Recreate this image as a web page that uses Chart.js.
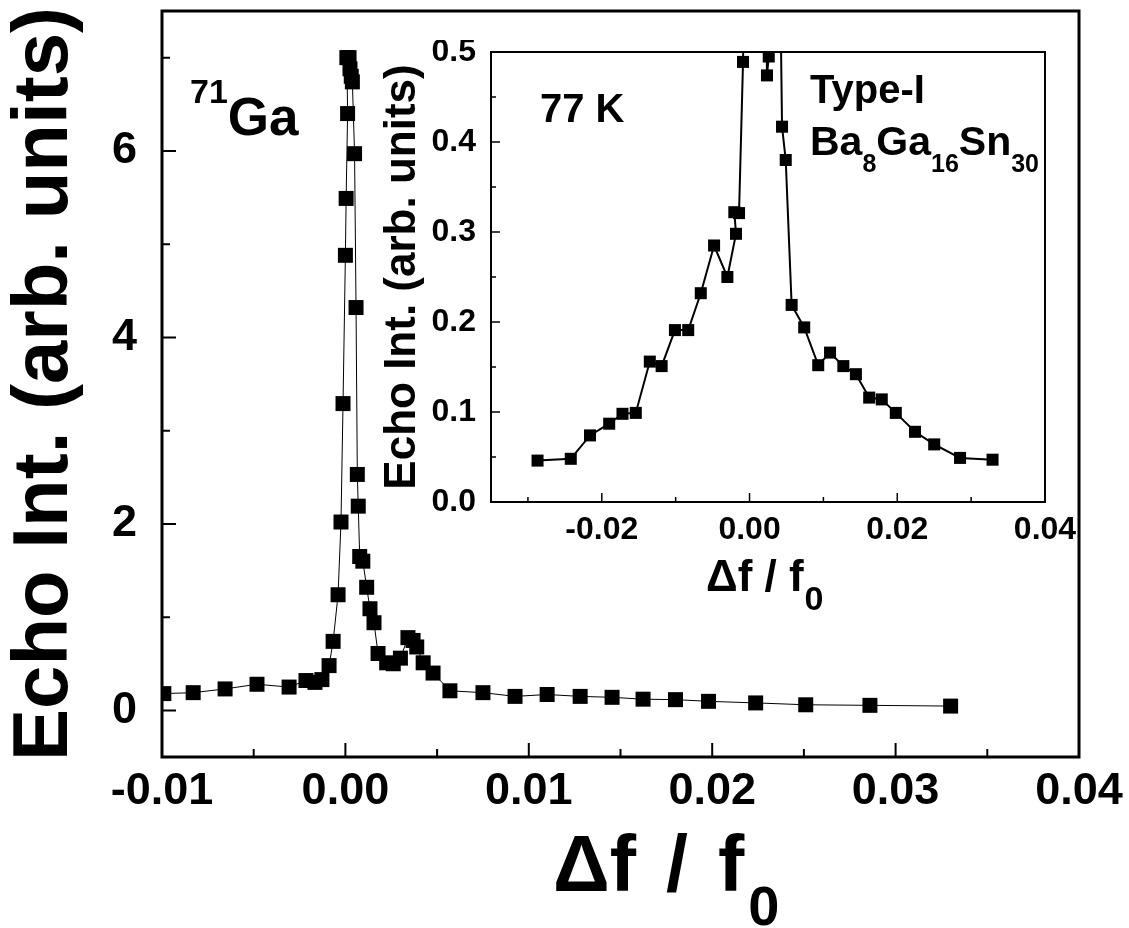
<!DOCTYPE html>
<html><head><meta charset="utf-8">
<script src="https://cdn.jsdelivr.net/npm/chart.js@4.4.1/dist/chart.umd.min.js"></script>
<style>
html,body{margin:0;padding:0;background:#fff;}
#wrap{position:relative;width:1129px;height:928px;overflow:hidden;background:#fff;}
#main{position:absolute;left:0;top:0;}
#inset{position:absolute;left:370px;top:40px;}
</style></head><body>
<div id="wrap"><canvas id="main" width="1129" height="928"></canvas><canvas id="inset" width="720" height="600"></canvas></div>
<script>
const FONT = '"Liberation Sans", Arial, Helvetica, sans-serif';

// ---- main chart data (71Ga) ----
const mainX = [-0.0099, -0.0083, -0.00656, -0.00482, -0.00307, -0.00215, -0.00166, -0.00128, -0.00089, -0.00067,
  -0.0004, -0.00024, -0.00013, 0.0, 0.00004, 0.00012, 0.00008, 0.0002, 0.00025, 0.00032,
  0.00038, 0.0005, 0.00058, 0.00065, 0.0007, 0.00078, 0.00095, 0.00116, 0.00134, 0.00156,
  0.00178, 0.00225, 0.00261, 0.003, 0.00341, 0.00369, 0.00389, 0.00424, 0.00478, 0.0057,
  0.0075, 0.00925, 0.011, 0.0128, 0.01454, 0.01623, 0.018, 0.0198, 0.02237, 0.0251,
  0.0286, 0.033];
const mainY = [0.18, 0.19, 0.23, 0.28, 0.25, 0.32, 0.30, 0.33, 0.48, 0.74,
  1.24, 2.02, 3.29, 4.88, 5.49, 6.40, 7.00, 7.00, 6.88, 6.80,
  6.74, 5.97, 4.32, 2.53, 2.19, 1.65, 1.60, 1.32, 1.09, 0.94,
  0.61, 0.51, 0.50, 0.56, 0.78, 0.75, 0.68, 0.51, 0.40, 0.21,
  0.19, 0.15, 0.17, 0.15, 0.14, 0.12, 0.115, 0.097, 0.08, 0.06,
  0.054, 0.046];
const mainXTickValues = [-0.01, 0, 0.01, 0.02, 0.03, 0.04];
const mainXTickLabels = ['-0.01', '0.00', '0.01', '0.02', '0.03', '0.04'];
const mainXMinor = [-0.005, 0.005, 0.015, 0.025, 0.035];
const mainYTickValues = [0, 2, 4, 6];
const mainYTickLabels = ['0', '2', '4', '6'];
const mainYMinor = [1, 3, 5, 7];

// ---- inset data (77 K) ----
const insetX = [-0.0287, -0.0242, -0.0216, -0.019, -0.0172, -0.0154, -0.0135, -0.0119, -0.0101, -0.0083,
  -0.0066, -0.0048, -0.003, -0.00183, -0.00206, -0.00142, -0.00088, 0.0008, 0.00236, 0.0026,
  0.0032, 0.0044, 0.0049, 0.0057, 0.0074, 0.0093, 0.0109, 0.0127, 0.0144, 0.0162,
  0.0179, 0.0198, 0.0224, 0.025, 0.0285, 0.0329];
const insetY = [0.046, 0.048, 0.074, 0.087, 0.098, 0.099, 0.156, 0.151, 0.191, 0.191,
  0.232, 0.285, 0.25, 0.298, 0.322, 0.321, 0.489, 1.6, 0.474, 0.495,
  1.2, 0.417, 0.38, 0.219, 0.194, 0.152, 0.166, 0.151, 0.142, 0.116,
  0.114, 0.099, 0.078, 0.064, 0.049, 0.047];
const insetXTickValues = [-0.02, 0, 0.02, 0.04];
const insetXTickLabels = ['-0.02', '0.00', '0.02', '0.04'];
const insetXMinor = [-0.03, -0.01, 0.01, 0.03];
const insetYTickValues = [0, 0.1, 0.2, 0.3, 0.4, 0.5];
const insetYTickLabels = ['0.0', '0.1', '0.2', '0.3', '0.4', '0.5'];
const insetYMinor = [0.05, 0.15, 0.25, 0.35, 0.45];

Chart.defaults.font.family = FONT;
Chart.defaults.color = '#000';

const frameTicks = {
  id: 'frameTicks',
  afterDatasetsDraw(chart, args, o) {
    const {ctx, chartArea: a} = chart;
    const xs = chart.scales.x, ys = chart.scales.y;
    ctx.save();
    ctx.strokeStyle = '#000';
    ctx.lineCap = 'butt';
    ctx.lineWidth = o.tickWidth;
    ctx.beginPath();
    o.xMajor.forEach(v => { const p = xs.getPixelForValue(v); ctx.moveTo(p, a.bottom); ctx.lineTo(p, a.bottom - o.majorLen); });
    o.xMinor.forEach(v => { const p = xs.getPixelForValue(v); ctx.moveTo(p, a.bottom); ctx.lineTo(p, a.bottom - o.minorLen); });
    o.yMajor.forEach(v => { const p = ys.getPixelForValue(v); ctx.moveTo(a.left, p); ctx.lineTo(a.left + o.majorLen, p); });
    o.yMinor.forEach(v => { const p = ys.getPixelForValue(v); ctx.moveTo(a.left, p); ctx.lineTo(a.left + o.minorLen, p); });
    ctx.stroke();
    ctx.lineWidth = o.frameWidth;
    ctx.strokeRect(a.left, a.top, a.right - a.left, a.bottom - a.top);
    ctx.fillStyle = '#000';
    ctx.textAlign = 'left';
    ctx.textBaseline = 'alphabetic';
    (o.texts || []).forEach(t => {
      let x = t.x;
      t.runs.forEach(r => {
        ctx.font = 'bold ' + r.s + 'px ' + FONT;
        ctx.fillText(r.t, x + (r.dx || 0), t.y + (r.dy || 0));
        x += ctx.measureText(r.t).width + (r.dx || 0);
      });
    });
    ctx.restore();
  }
};

function pts(xs, ys) { return xs.map((x, i) => ({x: x, y: ys[i]})); }

function fixAxis(values) {
  return function (s) { s.ticks = values.map(v => ({value: v})); };
}

new Chart(document.getElementById('main'), {
  type: 'scatter',
  data: { datasets: [{
    data: pts(mainX, mainY),
    showLine: true,
    borderColor: '#000', borderWidth: 1,
    pointStyle: 'rect', pointRadius: 10.6, pointBorderWidth: 0,
    pointBackgroundColor: '#000', backgroundColor: '#000'
  }]},
  options: {
    responsive: false, animation: false, devicePixelRatio: 1,
    layout: { padding: { left: 0, top: 11, right: 50, bottom: 0 } },
    plugins: {
      legend: { display: false }, tooltip: { enabled: false },
      frameTicks: {
        tickWidth: 2, frameWidth: 3, majorLen: 14, minorLen: 8,
        xMajor: mainXTickValues, xMinor: mainXMinor, yMajor: mainYTickValues, yMinor: mainYMinor,
        texts: [
          { x: 190, y: 135, runs: [{t: '71', s: 34, dy: -32}, {t: 'Ga', s: 53}] },
          { x: 553, y: 891, runs: [{t: '\u0394f', s: 79}, {t: ' / ', s: 79, dx: 8}, {t: 'f', s: 79, dx: 8},
            {t: '0', s: 56, dy: 34, dx: 4}] }
        ]
      }
    },
    scales: {
      x: {
        type: 'linear', min: -0.01, max: 0.04,
        afterBuildTicks: fixAxis(mainXTickValues),
        afterFit: s => { s.height = 171; s.paddingLeft = 0; s.paddingRight = 0; },
        grid: { display: false }, border: { display: false },
        ticks: { autoSkip: false, maxRotation: 0, minRotation: 0, padding: 0,
          font: { size: 45, weight: 'bold' }, callback: (v, i) => mainXTickLabels[i] }
      },
      y: {
        type: 'linear', min: -0.5, max: 7.5,
        afterBuildTicks: fixAxis(mainYTickValues),
        afterFit: s => { s.width = 162; s.paddingTop = 0; s.paddingBottom = 0; },
        grid: { display: false }, border: { display: false },
        ticks: { autoSkip: false, padding: 17, font: { size: 45, weight: 'bold' },
          callback: (v, i) => mainYTickLabels[i] },
        title: { display: true, text: 'Echo Int. (arb. units)', padding: { top: 6, bottom: 0 },
          font: { size: 78, weight: 'bold', lineHeight: 1 } }
      }
    }
  },
  plugins: [frameTicks]
});

new Chart(document.getElementById('inset'), {
  type: 'scatter',
  data: { datasets: [{
    data: pts(insetX, insetY),
    showLine: true,
    borderColor: '#000', borderWidth: 2,
    pointStyle: 'rect', pointRadius: 8.5, pointBorderWidth: 0,
    pointBackgroundColor: '#000', backgroundColor: '#000'
  }]},
  options: {
    responsive: false, animation: false, devicePixelRatio: 1,
    layout: { padding: { left: 0, top: 12, right: 45, bottom: 0 } },
    plugins: {
      legend: { display: false }, tooltip: { enabled: false },
      frameTicks: {
        tickWidth: 1.5, frameWidth: 2, majorLen: 9, minorLen: 5,
        xMajor: insetXTickValues, xMinor: insetXMinor, yMajor: insetYTickValues, yMinor: insetYMinor,
        texts: [
          { x: 170, y: 82, runs: [{t: '77 K', s: 40}] },
          { x: 440, y: 63, runs: [{t: 'Type-I', s: 40}] },
          { x: 440, y: 115, runs: [{t: 'Ba', s: 41}, {t: '8', s: 25, dy: 17}, {t: 'Ga', s: 41}, {t: '16', s: 25, dy: 17}, {t: 'Sn', s: 41}, {t: '30', s: 25, dy: 17}] },
          { x: 336, y: 551, runs: [{t: '\u0394f / f', s: 44}, {t: '0', s: 34, dy: 19, dx: 1}] }
        ]
      }
    },
    scales: {
      x: {
        type: 'linear', min: -0.035, max: 0.04,
        afterBuildTicks: fixAxis(insetXTickValues),
        afterFit: s => { s.height = 138; s.paddingLeft = 0; s.paddingRight = 0; },
        grid: { display: false }, border: { display: false },
        ticks: { autoSkip: false, maxRotation: 0, minRotation: 0, padding: 1,
          font: { size: 32, weight: 'bold' }, callback: (v, i) => insetXTickLabels[i] }
      },
      y: {
        type: 'linear', min: 0, max: 0.5,
        afterBuildTicks: fixAxis(insetYTickValues),
        afterFit: s => { s.width = 121; s.paddingTop = 0; s.paddingBottom = 0; },
        grid: { display: false }, border: { display: false },
        ticks: { autoSkip: false, padding: 7, font: { size: 32, weight: 'bold' },
          callback: (v, i) => insetYTickLabels[i] },
        title: { display: true, text: 'Echo Int. (arb. units)', padding: { top: 11, bottom: 0 },
          font: { size: 44, weight: 'bold', lineHeight: 1 } }
      }
    }
  },
  plugins: [frameTicks]
});
</script></body></html>
